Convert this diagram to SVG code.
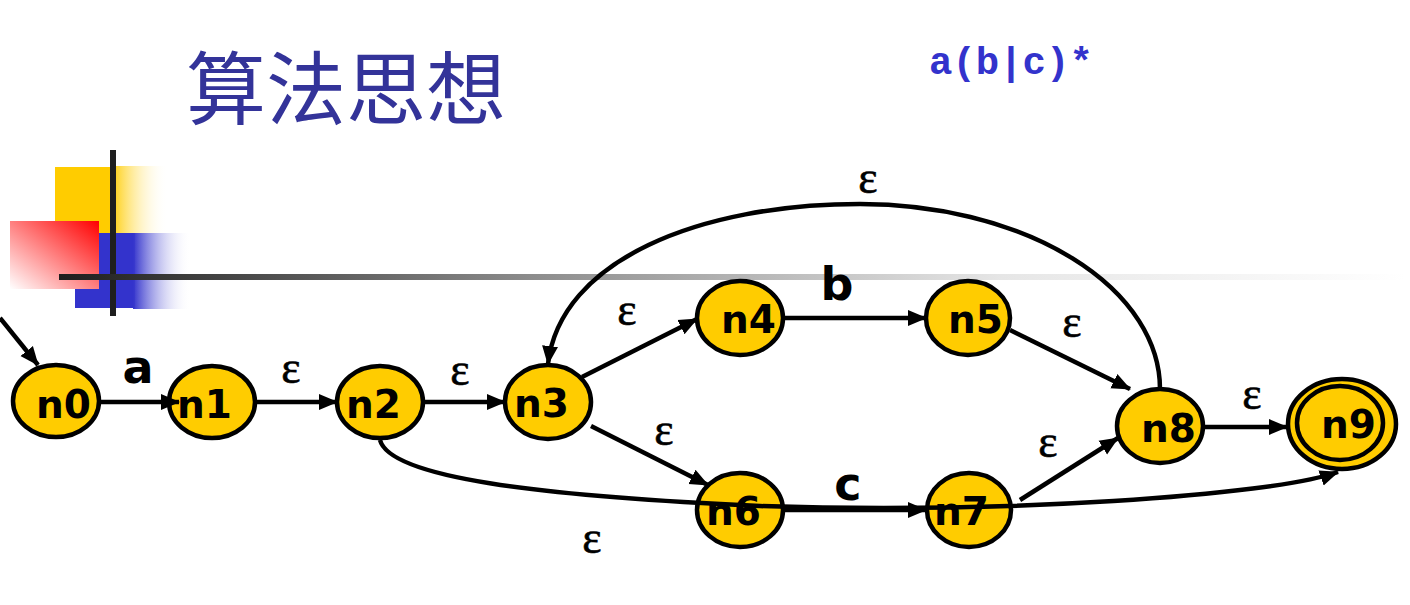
<svg xmlns="http://www.w3.org/2000/svg" width="1410" height="605" viewBox="0 0 1410 605">
<style>
.node ellipse{fill:#FFCC00;stroke:#000;stroke-width:4.5}
.lbl{font-family:"DejaVu Sans",Verdana,sans-serif;font-weight:bold;font-size:39px;fill:#000}
.sym{font-family:"DejaVu Sans",Verdana,sans-serif;font-weight:bold;font-size:46px;fill:#000;text-anchor:middle}
.eps{font-family:"Liberation Serif","Times New Roman",serif;font-size:46px;fill:#000;text-anchor:middle;stroke:#000;stroke-width:0.6}
.edge{fill:none;stroke:#000;stroke-width:4.5;marker-end:url(#arr)}
</style>
<defs>
<marker id="arr" markerUnits="userSpaceOnUse" markerWidth="20" markerHeight="20" refX="18" refY="10" orient="auto" viewBox="0 0 20 20">
<path d="M0,2 L19,10 L0,18 z" fill="#000"/>
</marker>
<linearGradient id="gy" x1="0" y1="0" x2="1" y2="0"><stop offset="0" stop-color="#FFCC00"/><stop offset="1" stop-color="#FFFFFF" stop-opacity="0"/></linearGradient>
<linearGradient id="gb" x1="0" y1="0" x2="1" y2="0"><stop offset="0" stop-color="#3333CC"/><stop offset="1" stop-color="#FFFFFF" stop-opacity="0"/></linearGradient>
<linearGradient id="gr" x1="1" y1="0" x2="0" y2="1"><stop offset="0" stop-color="#FF0000"/><stop offset="1" stop-color="#FFFFFF"/></linearGradient>
<linearGradient id="gh" x1="59" y1="0" x2="1405" y2="0" gradientUnits="userSpaceOnUse"><stop offset="0" stop-color="#1E1E1E"/><stop offset="0.35" stop-color="#8C8C8C"/><stop offset="0.7" stop-color="#E6E6E6"/><stop offset="1" stop-color="#FFFFFF"/></linearGradient>
</defs>
<rect width="1410" height="605" fill="#fff"/>
<g id="decoration">
<rect x="55" y="167" width="57" height="66" fill="#FFCC00"/>
<rect x="111" y="166" width="57" height="67" fill="url(#gy)"/>
<rect x="75" y="233" width="60" height="75" fill="#3333CC"/>
<rect x="133" y="233" width="58" height="76" fill="url(#gb)"/>
<rect x="10" y="221" width="89" height="68" fill="url(#gr)"/>
<rect x="110" y="150" width="6" height="166" fill="#1F1F1F"/>
<rect x="59" y="274" width="1346" height="6" fill="url(#gh)"/>
</g>
<g id="title">
<text x="186" y="118" font-family="'Noto Sans CJK SC',sans-serif" font-size="80" fill="#333399">算法思想</text>
<text x="929" y="74" font-family="'Liberation Mono','Courier New',monospace" font-weight="bold" font-size="39" fill="#3333CC">a(b|c)*</text>
</g>
<g id="n0" class="node"><ellipse cx="56" cy="401" rx="43" ry="36"/><text class="lbl" x="36" y="418">n0</text></g>
<g id="n1" class="node"><ellipse cx="212" cy="402" rx="43" ry="36"/><text class="lbl" x="177" y="418">n1</text></g>
<g id="n2" class="node"><ellipse cx="380" cy="402" rx="43" ry="36"/><text class="lbl" x="346" y="418">n2</text></g>
<g id="n3" class="node"><ellipse cx="548" cy="402" rx="43" ry="37"/><text class="lbl" x="514" y="417">n3</text></g>
<g id="n4" class="node"><ellipse cx="740" cy="318" rx="43" ry="37"/><text class="lbl" x="721" y="333">n4</text></g>
<g id="n5" class="node"><ellipse cx="968" cy="318" rx="42" ry="37"/><text class="lbl" x="948" y="333">n5</text></g>
<g id="n6" class="node"><ellipse cx="740" cy="510" rx="43" ry="37"/><text class="lbl" x="706" y="525">n6</text></g>
<g id="n7" class="node"><ellipse cx="969" cy="510" rx="42" ry="37"/><text class="lbl" x="934" y="525">n7</text></g>
<g id="n8" class="node"><ellipse cx="1160" cy="426" rx="43" ry="37"/><text class="lbl" x="1141" y="442">n8</text></g>
<g id="n9" class="node"><ellipse cx="1342" cy="424" rx="54" ry="45"/><ellipse cx="1340" cy="423" rx="43" ry="37"/><text class="lbl" x="1321" y="438">n9</text></g>
<g id="connectors">
<path class="edge" d="M0,318 L38,365"/>
<path class="edge" d="M99,402 L179,402"/>
<path class="edge" d="M255,402 L337,402"/>
<path class="edge" d="M423,402 L505,402"/>
<path class="edge" d="M582,377 L697,319"/>
<path class="edge" d="M591,426 L708,485"/>
<path class="edge" d="M784,318 L926,318"/>
<path class="edge" d="M784,510 L926,510"/>
<path class="edge" d="M1010,330 L1130,389"/>
<path class="edge" d="M1020,500 L1118,438"/>
<path class="edge" d="M1204,427 L1287,427"/>
<path class="edge" d="M1160,389 A300,185 0 0 0 860,204 C700,204 560,260 548,364"/>
<path class="edge" d="M380,440 C390,478 540,496 760,506 C1000,514 1270,496 1338,472"/>
</g>
<g id="labels">
<text class="sym" x="138" y="383">a</text>
<text class="sym" x="837" y="300">b</text>
<text class="sym" x="848" y="500">c</text>
<text class="eps" x="291" y="383">ε</text>
<text class="eps" x="460" y="385">ε</text>
<text class="eps" x="627" y="325">ε</text>
<text class="eps" x="664" y="445">ε</text>
<text class="eps" x="592" y="553">ε</text>
<text class="eps" x="868" y="193">ε</text>
<text class="eps" x="1072" y="337">ε</text>
<text class="eps" x="1048" y="457">ε</text>
<text class="eps" x="1252" y="409">ε</text>
</g>
</svg>
